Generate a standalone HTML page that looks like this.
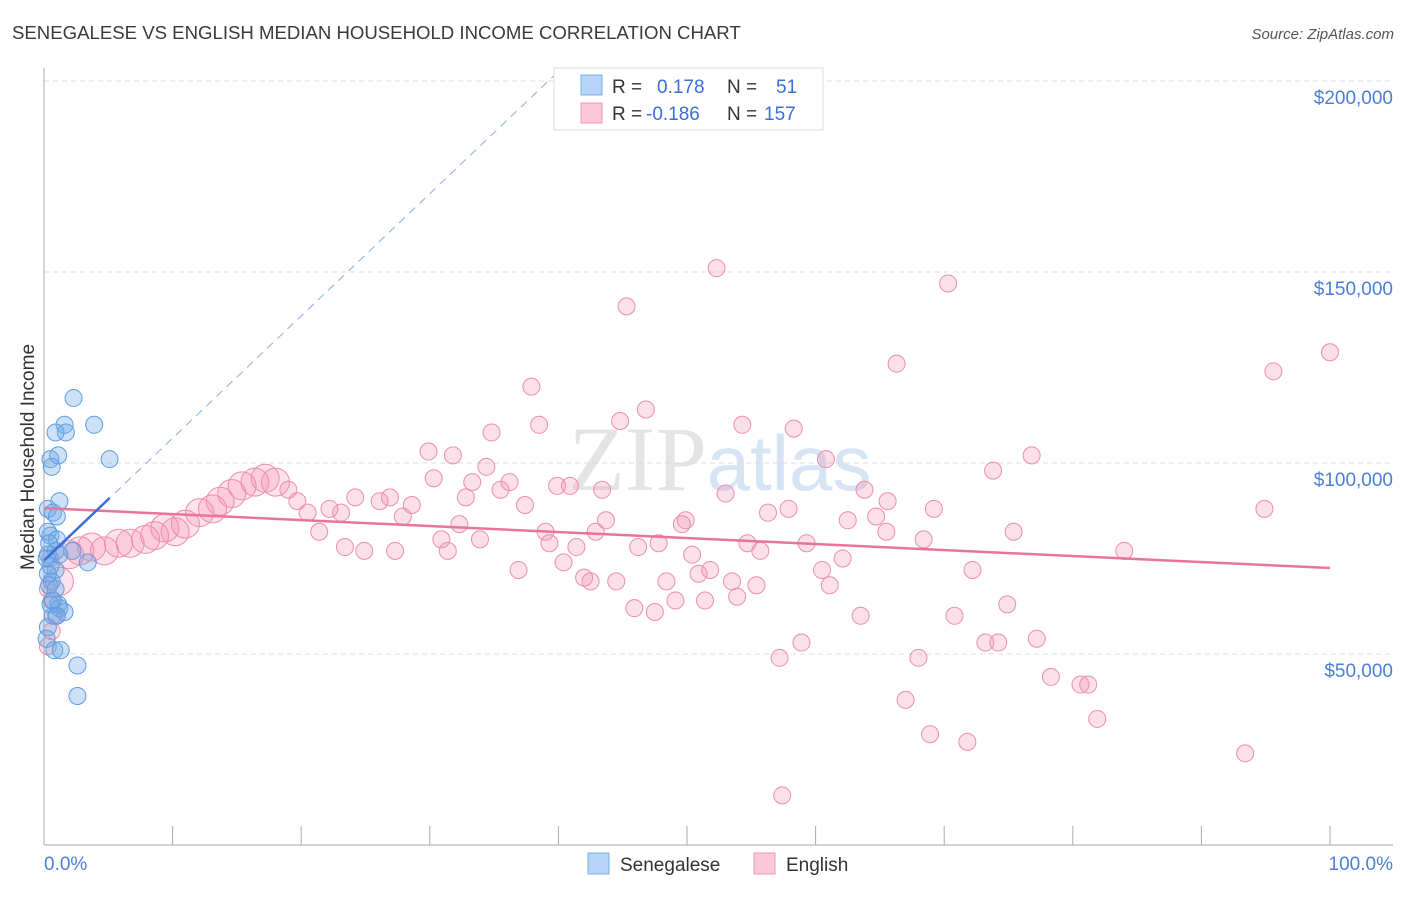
<!DOCTYPE html>
<html><head><meta charset="utf-8"><style>
body{margin:0;background:#fff;font-family:"Liberation Sans",sans-serif}
</style></head><body>
<svg id="chart" width="1406" height="892" xmlns="http://www.w3.org/2000/svg" font-family="Liberation Sans, sans-serif">
<text x="12" y="39" font-size="18.6" fill="#3a3a3a">SENEGALESE VS ENGLISH MEDIAN HOUSEHOLD INCOME CORRELATION CHART</text>
<text x="1394" y="39" font-size="15" font-style="italic" fill="#555" text-anchor="end">Source: ZipAtlas.com</text>
<text x="720" y="490" font-size="92" fill="#e4e4e4" text-anchor="middle" font-family="Liberation Serif, serif">ZIP<tspan fill="#d6e4f4" font-family="Liberation Sans, sans-serif" font-size="78">atlas</tspan></text>
<g id="grid"></g>
<g id="axes"></g>
<g id="pts"></g>
<g id="lines"></g>
<text transform="translate(34,457) rotate(-90)" font-size="19" fill="#333" text-anchor="middle">Median Household Income</text>
<text x="44" y="870" font-size="19" fill="#4a7fd8">0.0%</text>
<text x="1393" y="870" font-size="19" fill="#4a7fd8" text-anchor="end">100.0%</text>
<g>
<rect x="554" y="68" width="269" height="62" fill="#fff" stroke="#ddd"/>
<rect x="581" y="75" width="21" height="20" fill="#b7d3f5" stroke="#7aaee8"/>
<rect x="581" y="103" width="21" height="20" fill="#fbc8d7" stroke="#ee9ab5"/>
<text x="612" y="93" font-size="19" fill="#333">R = <tspan fill="#3a6fd8" x="657">0.178</tspan><tspan x="727" fill="#333">N =</tspan><tspan x="776" fill="#3a6fd8">51</tspan></text>
<text x="612" y="120" font-size="19" fill="#333">R = <tspan fill="#3a6fd8" x="646">-0.186</tspan><tspan x="727" fill="#333">N =</tspan><tspan x="764" fill="#3a6fd8">157</tspan></text>
</g>
<g><rect x="588" y="853" width="21" height="21" fill="#b7d3f5" stroke="#7aaee8"/><text x="620" y="871" font-size="19" fill="#333">Senegalese</text></g>
<g><rect x="754" y="853" width="21" height="21" fill="#fbc8d7" stroke="#ee9ab5"/><text x="786" y="871" font-size="19" fill="#333">English</text></g>
</svg>
<script>
const yTicks=[50,100,150,200];
const yTickLabels=["$50,000","$100,000","$150,000","$200,000"];
const xTicks=[0,10,20,30,40,50,60,70,80,90,100];
const senX=[2.3,1.6,1.7,0.9,3.9,0.5,1.1,5.1,0.6,1.2,0.3,0.7,1.0,0.3,0.5,0.4,0.9,0.3,1.2,2.2,3.4,0.5,0.9,0.3,0.6,0.4,0.9,1.1,0.5,1.2,1.6,0.7,1.0,0.3,0.2,0.8,1.3,2.6,2.6,1.0,0.7,0.2];
const senY=[117,110,108,108,110,101,102,101,99,90,88,87,86,82,81,79,77,76,76,77,74,73,72,71,69,68,67,63,63,62,61,60,60,57,54,51,51,47,39,80,64,75];
const engX=[52.3,45.3,70.3,66.3,100,95.6,37.9,46.8,38.5,44.8,54.3,58.3,34.8,29.9,31.8,34.4,60.8,76.8,73.8,30.3,33.3,36.2,35.5,39.9,40.9,43.4,53.0,63.8,65.6,69.2,37.4,32.8,26.9,24.2,26.1,28.6,27.9,32.3,57.9,56.3,49.9,49.6,43.7,42.9,39.0,62.5,64.7,65.5,75.4,94.9,68.4,59.3,54.7,55.7,47.8,46.2,39.3,41.4,33.9,30.9,31.4,27.3,24.9,23.4,21.4,20.5,22.2,23.1,19.7,19.0,84.0,50.4,40.4,36.9,42.0,42.5,44.5,48.4,50.9,51.8,53.5,55.4,53.9,51.4,49.1,45.9,47.5,60.5,62.1,61.1,72.2,74.9,70.8,63.5,57.2,58.9,68.0,73.2,74.2,77.2,78.3,80.6,81.2,81.9,67.0,68.9,71.8,93.4,57.4,0.6,0.5,0.6,0.3,0.9,0.3];
const engY=[151,141,147,126,129,124,120,114,110,111,110,109,108,103,102,99,101,102,98,96,95,95,93,94,94,93,92,93,90,88,89,91,91,91,90,89,86,84,88,87,85,84,85,82,82,85,86,82,82,88,80,79,79,77,79,78,79,78,80,80,77,77,77,78,82,87,88,87,90,93,77,76,74,72,70,69,69,69,71,72,69,68,65,64,64,62,61,72,75,68,72,63,60,60,49,53,49,53,53,54,44,42,42,33,38,29,27,24,13,56,75,64,67,60,52];
const clusterX=[1.2,2.0,2.8,3.7,4.7,5.8,6.7,7.9,8.6,9.4,10.2,11.0,12.1,13.1,13.7,14.6,15.4,16.4,17.2,18.0];
const clusterY=[69,76,77,78,77,79,79,80,81,83,82,84,87,88,90,92,94,95,96,95];
const engTrend=[88.2,72.5];
const senTrend=[74.5,3.2];
const NS="http://www.w3.org/2000/svg";
const X=p=>44+p*12.86;
const Y=v=>845-v*3.82;
function mk(tag,attrs,parent){const e=document.createElementNS(NS,tag);for(const k in attrs)e.setAttribute(k,attrs[k]);parent.appendChild(e);return e;}
const grid=document.getElementById('grid'),axes=document.getElementById('axes'),pts=document.getElementById('pts'),lines=document.getElementById('lines');
yTicks.forEach((t,i)=>{
 const l=mk('line',{x1:44,x2:1393,y1:Y(t),y2:Y(t),stroke:'#ddd','stroke-dasharray':'5,4'},grid);
 
 
 const tx=mk('text',{x:1393,y:Y(t)+23,'font-size':19,fill:'#4a7fd8','text-anchor':'end'},grid);
 tx.textContent=yTickLabels[i];
 
 
});
const ya=mk('line',{x1:44,x2:44,y1:68,y2:845,stroke:'#aaa'},axes);


const xa=mk('line',{x1:44,x2:1393,y1:845,y2:845,stroke:'#aaa'},axes);


xTicks.forEach(t=>{
 const l=mk('line',{x1:X(t),x2:X(t),y1:826,y2:845,stroke:'#aaa'},axes);
 
 
});
engX.forEach((x,i)=>{
 const c=mk('circle',{cx:X(x),cy:Y(engY[i]),r:8.5,fill:'rgba(242,140,175,0.28)',stroke:'#ec8fae','stroke-width':1},pts);
 
 
});
clusterX.forEach((x,i)=>{
 const c=mk('circle',{cx:X(x),cy:Y(clusterY[i]),r:14,fill:'rgba(242,140,175,0.25)',stroke:'#ec8fae','stroke-width':1},pts);
 
 
});
senX.forEach((x,i)=>{
 const c=mk('circle',{cx:X(x),cy:Y(senY[i]),r:8.5,fill:'rgba(110,165,230,0.35)',stroke:'#5f9de3','stroke-width':1},pts);
 
 
});
const el=mk('line',{x1:X(0),y1:Y(engTrend[0]),x2:X(100),y2:Y(engTrend[1]),stroke:'#e8749a','stroke-width':2.5},lines);


const sd=mk('line',{x1:X(0),y1:Y(senTrend[0]),x2:X(39.7),y2:Y(senTrend[0]+senTrend[1]*39.7),stroke:'#9bb8e6','stroke-width':1.2,'stroke-dasharray':'8,6'},lines);


const ss=mk('line',{x1:X(0),y1:Y(senTrend[0]),x2:X(5.1),y2:Y(senTrend[0]+senTrend[1]*5.1),stroke:'#3a6fd8','stroke-width':2.5},lines);


</script>
</body></html>
